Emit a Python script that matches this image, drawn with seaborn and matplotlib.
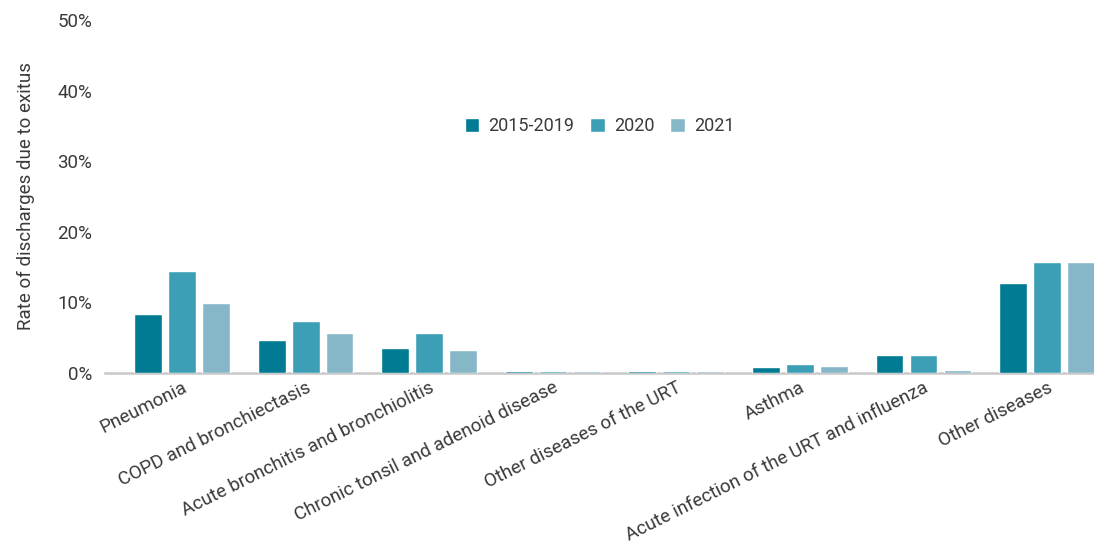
import matplotlib
matplotlib.use("Agg")
import matplotlib.pyplot as plt
import seaborn as sns
import pandas as pd
from matplotlib.ticker import FuncFormatter

categories = [
    "Pneumonia",
    "COPD and bronchiectasis",
    "Acute bronchitis and bronchiolitis",
    "Chronic tonsil and adenoid disease",
    "Other diseases of the URT",
    "Asthma",
    "Acute infection of the URT and influenza",
    "Other diseases",
]
periods = ["2015-2019", "2020", "2021"]
rate_2015_2019 = [8.4, 4.7, 3.6, 0.3, 0.3, 0.9, 2.5, 12.7]
rate_2020 = [14.4, 7.4, 5.7, 0.3, 0.3, 1.3, 2.5, 15.7]
rate_2021 = [9.9, 5.7, 3.2, 0.3, 0.3, 1.0, 0.4, 15.7]
y_ticks = [0, 10, 20, 30, 40, 50]

rows = []
for period, values in zip(periods, [rate_2015_2019, rate_2020, rate_2021]):
    for cat, v in zip(categories, values):
        rows.append({"category": cat, "period": period, "rate": v})
df = pd.DataFrame(rows)

sns.set_style("white")
plt.rcParams["font.family"] = ["Roboto", "DejaVu Sans"]
text_color = "#3a3a3a"
fs = 13.5

fig = plt.figure(figsize=(10.94, 5.44), dpi=100)
ax = fig.add_axes([105 / 1094, (544 - 373) / 544, 989 / 1094, 353 / 544])

palette = ["#007b93", "#3d9fb6", "#86b7c8"]
sns.barplot(
    data=df, x="category", y="rate", hue="period",
    order=categories, hue_order=periods, palette=palette,
    width=0.825, gap=0.18, saturation=1, ax=ax, legend=True,
)

ax.set_ylim(0, 50)
ax.set_xlim(-0.623, 7.38)
ax.set_yticks(y_ticks)
ax.yaxis.set_major_formatter(FuncFormatter(lambda v, _: f"{int(v)}%"))
ax.tick_params(axis="both", length=0, labelsize=fs, labelcolor=text_color)
ax.tick_params(axis="y", pad=9)
ax.tick_params(axis="x", pad=4)
ax.set_xticks(range(len(categories)))
ax.set_xticklabels(categories, rotation=26.5, ha="right", rotation_mode="anchor")

ax.set_xlabel("")
ax.set_ylabel("Rate of discharges due to exitus", fontsize=fs, color=text_color,
              labelpad=16)

for side in ["top", "right", "left"]:
    ax.spines[side].set_visible(False)
ax.spines["bottom"].set_color("#c8c8c8")
ax.spines["bottom"].set_linewidth(1.8)
ax.spines["bottom"].set_zorder(0.5)
ax.grid(False)

leg = ax.legend(
    loc="center", bbox_to_anchor=(0.5, 0.70), ncol=3, frameon=False,
    fontsize=13, handlelength=0.8, handleheight=0.8, handletextpad=0.5,
    columnspacing=0.9,
)
for t in leg.get_texts():
    t.set_color(text_color)

fig.savefig("out.png", dpi=100)
